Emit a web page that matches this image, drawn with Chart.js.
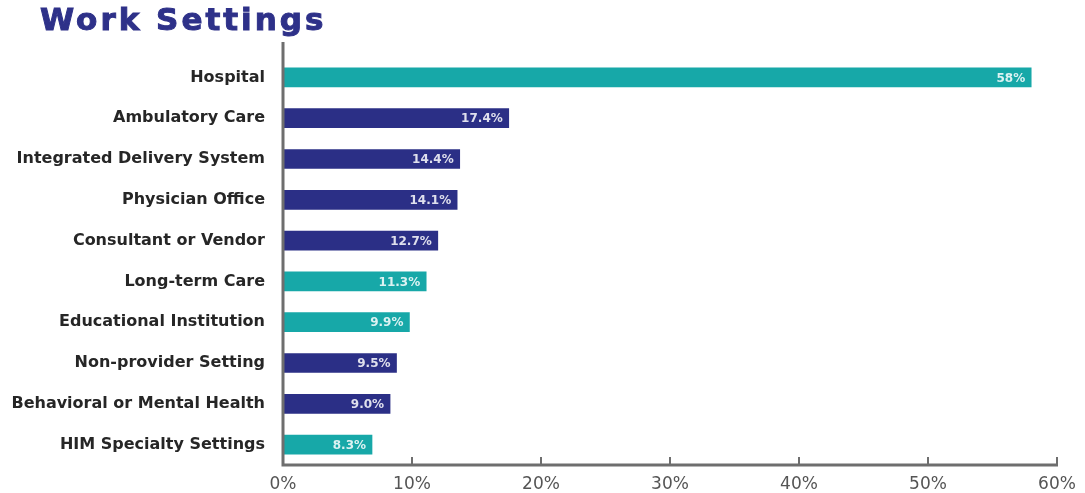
<!DOCTYPE html>
<html>
<head>
<meta charset="utf-8">
<script src="https://cdn.jsdelivr.net/npm/chart.js@4"></script>
<style>
html, body { margin: 0; padding: 0; background: #fff; }
#wrap { position: relative; width: 1085px; height: 493px; }
#title { position: absolute; left: 40px; top: 1px; margin: 0; font: 700 31px "DejaVu Sans"; letter-spacing: 3px;
  color: #2e3189; -webkit-text-stroke: 1px #2e3189; }
</style>
</head>
<body>
<div id="wrap">
<h1 id="title">Work Settings</h1>
<canvas id="workChart" width="1085" height="493"></canvas>
</div>
<script>
// categories, top to bottom
const categories = ['Hospital', 'Ambulatory Care', 'Integrated Delivery System', 'Physician Office',
  'Consultant or Vendor', 'Long-term Care', 'Educational Institution', 'Non-provider Setting',
  'Behavioral or Mental Health', 'HIM Specialty Settings'];
// bar lengths as drawn (percent)
const barValues = [58, 17.5, 13.7, 13.5, 12.0, 11.1, 9.8, 8.8, 8.3, 6.9];
// labels printed inside the bars
const valueLabels = ['58%', '17.4%', '14.4%', '14.1%', '12.7%', '11.3%', '9.9%', '9.5%', '9.0%', '8.3%'];
const xTicks = [0, 10, 20, 30, 40, 50, 60];

const teal = '#17a8a8';
const navy = '#2b2f86';
const barColors = [teal, navy, navy, navy, navy, teal, teal, navy, navy, teal];

// axis lines + little upward tick marks
const axisDecor = {
  id: 'axisDecor',
  afterDraw(chart) {
    const { ctx, chartArea, scales } = chart;
    ctx.save();
    ctx.strokeStyle = '#6e6e6e';
    ctx.lineWidth = 3;
    ctx.beginPath();
    ctx.moveTo(chartArea.left, 42);
    ctx.lineTo(chartArea.left, chartArea.bottom + 1.5);
    ctx.moveTo(chartArea.left, chartArea.bottom);
    ctx.lineTo(chartArea.right + 1, chartArea.bottom);
    ctx.stroke();
    ctx.lineWidth = 2;
    ctx.beginPath();
    xTicks.forEach(v => {
      const x = scales.x.getPixelForValue(v);
      ctx.moveTo(x, chartArea.bottom);
      ctx.lineTo(x, chartArea.bottom - 8);
    });
    ctx.stroke();
    ctx.restore();
  }
};

// white value text at the end of each bar
const barText = {
  id: 'barText',
  afterDatasetsDraw(chart) {
    const ctx = chart.ctx;
    const meta = chart.getDatasetMeta(0);
    ctx.save();
    ctx.font = 'bold 12px "DejaVu Sans"';
    ctx.fillStyle = 'rgba(255,255,255,0.85)';
    ctx.textAlign = 'right';
    ctx.textBaseline = 'middle';
    meta.data.forEach((bar, i) => {
      ctx.fillText(valueLabels[i], bar.x - 6, bar.y + 1);
    });
    ctx.restore();
  }
};

new Chart(document.getElementById('workChart'), {
  type: 'bar',
  data: {
    labels: categories,
    datasets: [{
      data: barValues,
      backgroundColor: barColors,
      borderWidth: 0,
      barThickness: 19
    }]
  },
  options: {
    indexAxis: 'y',
    responsive: false,
    animation: false,
    layout: { padding: { top: 57, right: 28, left: 0, bottom: 0 } },
    plugins: {
      legend: { display: false },
      tooltip: { enabled: false }
    },
    scales: {
      x: {
        min: 0,
        max: 60,
        grid: { display: false, drawTicks: false },
        border: { display: false },
        afterFit: scale => { scale.height = 28; },
        afterBuildTicks: scale => { scale.ticks = xTicks.map(v => ({ value: v })); },
        ticks: {
          padding: 9,
          color: '#555',
          font: { family: 'DejaVu Sans', size: 17 },
          callback: v => v + '%'
        }
      },
      y: {
        grid: { display: false, drawTicks: false },
        border: { display: false },
        afterFit: scale => { scale.width = 283; },
        ticks: {
          padding: 18,
          color: '#262626',
          font: { family: 'DejaVu Sans', size: 16, weight: 'bold' }
        }
      }
    }
  },
  plugins: [axisDecor, barText]
});
</script>
</body>
</html>
